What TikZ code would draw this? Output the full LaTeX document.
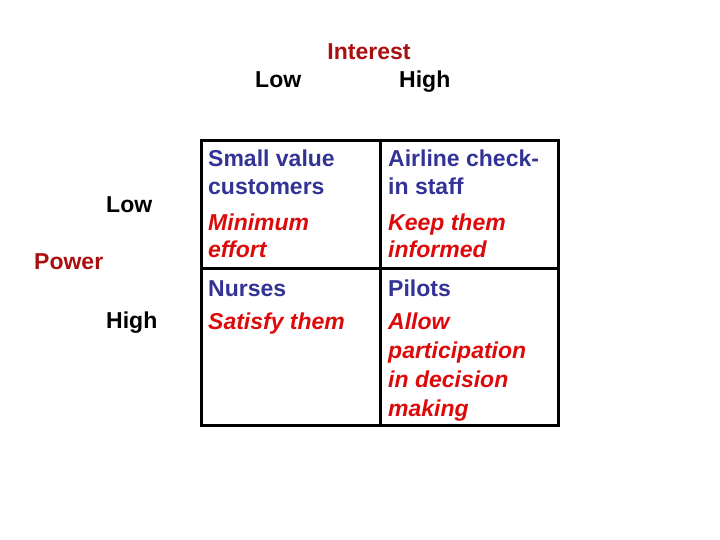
\documentclass[tikz,border=0pt]{standalone}
\usepackage{fontspec}
\setmainfont{Liberation Sans}
\definecolor{navy}{RGB}{51,51,150}
\definecolor{redit}{RGB}{220,10,10}
\definecolor{darkred}{RGB}{170,15,15}
\begin{document}
\begin{tikzpicture}[x=1pt,y=-1pt,
  txt/.style={anchor=base west,inner sep=0pt,font=\fontsize{23}{28}\selectfont\bfseries},
  who/.style={txt,text=navy},
  act/.style={txt,text=redit,font=\fontsize{23}{28}\selectfont\bfseries\itshape},
  axis/.style={txt,text=black},
  title/.style={txt,text=darkred},
  grid/.style={line width=3pt,black}]
\useasboundingbox (0,0) rectangle (720,540);
% grid
\coordinate (tl) at (201,141);
\coordinate (br) at (558,425);
\draw[grid] (tl) rectangle (br);
\draw[grid] (380,141) -- (380,425);
\draw[grid] (201,268) -- (558,268);
% headers
\node[title,anchor=base] (interest) at (369,60) {Interest};
\node[axis] (ilow) at (255,88) {Low};
\node[axis] (ihigh) at (399,88) {High};
\node[axis] (plow) at (106,212) {Low};
\node[title] (power) at (34,269) {Power};
\node[axis] (phigh) at (106,328) {High};
% cells
\node[who] (a1) at (208,167) {Small value};
\node[who] (a2) at (208,195) {customers};
\node[act] (a3) at (208,230) {Minimum};
\node[act] (a4) at (208,258) {effort};
\node[who] (b1) at (388,167) {Airline check-};
\node[who] (b2) at (388,195) {in staff};
\node[act] (b3) at (388,230) {Keep them};
\node[act] (b4) at (388,258) {informed};
\node[who] (c1) at (208,296) {Nurses};
\node[act] (c2) at (208,329) {Satisfy them};
\node[who] (d1) at (388,296) {Pilots};
\node[act] (d2) at (388,329) {Allow};
\node[act] (d3) at (388,358) {participation};
\node[act] (d4) at (388,387) {in decision};
\node[act] (d5) at (388,416) {making};
\end{tikzpicture}
\end{document}
